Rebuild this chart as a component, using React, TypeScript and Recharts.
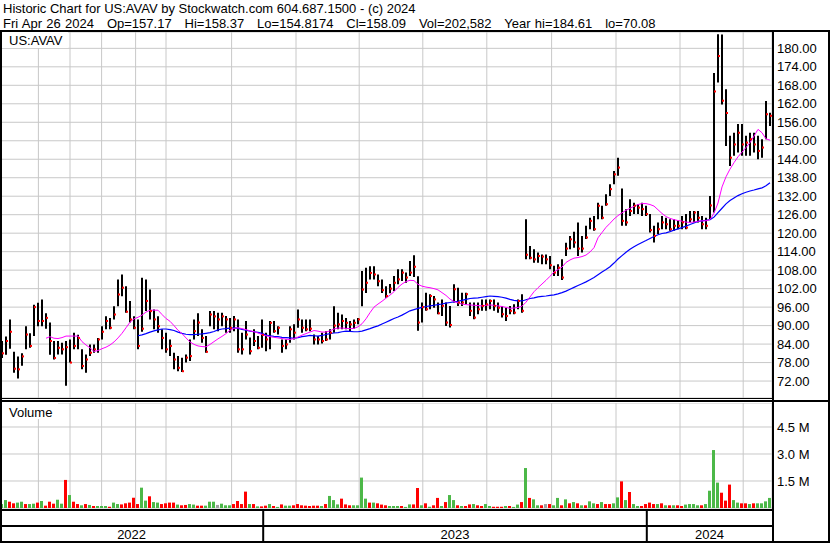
import React from "react";
import { Bar, BarChart, CartesianGrid, Cell, ComposedChart, Line, Scatter, XAxis, YAxis } from "recharts";

// one entry per ~2.6 trading days, late Apr 2022 .. Apr 26 2024
const hi = [
  85, 86.5, 92, 81.5, 80, 81, 89.8, 87.5, 96.8, 97.4,
  98.5, 94, 91, 85, 85, 84.4, 85, 85.5, 87.7, 87,
  82.3, 80.6, 83.9, 83.9, 86, 89.8, 93, 92.5, 96.3, 105,
  106.6, 102.8, 98, 93, 92, 105.5, 105, 101.7, 95.2, 93,
  88.8, 87.7, 85.5, 81.2, 80.1, 79.6, 80.6, 85.5, 92, 94,
  88.8, 86.6, 94.7, 94.7, 94.2, 94.2, 93.1, 92.5, 93.1, 92,
  87.7, 91.5, 86.1, 88.8, 86.6, 92, 87.7, 91.5, 91.5, 89.8,
  85.5, 85.5, 89.8, 90.4, 95.2, 92, 92, 92, 87.1, 86.6,
  87.7, 88.2, 88.8, 96.3, 94.2, 93.6, 92.5, 91.5, 92, 92.5,
  107.7, 108.8, 109.3, 109.3, 106.6, 105, 102.8, 103.5, 106.1, 108.3,
  108.3, 107.2, 111, 112.8, 106, 97.5, 100.7, 100.2, 99.6, 97.5,
  98.5, 97.5, 96.4, 103.4, 102.3, 100.7, 100.7, 97.5, 97.5, 97.5,
  98.5, 98.5, 98.5, 98.5, 97.5, 96.4, 95.8, 96.4, 96.9, 98.5,
  100.2, 124.5, 115.8, 114.8, 113.7, 113.1, 113.1, 112.6, 109.4, 109.9,
  111.5, 116.9, 119.1, 120.5, 123.5, 119.1, 122.4, 125, 125.6, 129.9,
  128.9, 132.6, 135.9, 140.2, 144.5, 134.5, 127.8, 131, 129.9, 129.4,
  129.9, 128.9, 126.2, 122.4, 123.5, 125.6, 125, 124.5, 124.5, 124,
  125.6, 126.2, 127.2, 127.2, 127.2, 125.6, 125, 132.1, 172, 184.6,
  184.5, 166.7, 151.6, 152.6, 155.4, 155.4, 151.6, 152.6, 152.6, 151.6,
  150.5, 162.9, 159.1,
];

const lo = [
  79.5, 80.5, 82.5, 74.7, 72.8, 77, 82.3, 82.8, 86.6, 89.8,
  89.8, 89, 80.5, 79, 80.6, 80.6, 70.5, 78, 82.3, 82.3,
  75.8, 74.7, 80.1, 81.2, 81.2, 85.5, 88.8, 88.8, 92, 96.3,
  99.5, 94.2, 91, 88.8, 82.3, 88, 94.7, 92, 88.8, 87.7,
  82.3, 81.2, 80.1, 75.8, 75.2, 74.9, 78, 78.5, 85.5, 86.6,
  84.4, 81.2, 89.8, 88.8, 88.2, 89.8, 87.7, 87.7, 88.2, 81.2,
  80.6, 85.5, 80.6, 83.4, 82.3, 82.8, 81.7, 82.3, 87.7, 87.1,
  81.2, 82.3, 84.4, 85.5, 89.3, 87.7, 88.2, 88.2, 83.9, 83.9,
  84.2, 85, 85.5, 87.7, 88.8, 88.8, 88.8, 88.2, 89, 90.4,
  96.3, 100.6, 105, 105, 102.8, 100.6, 99, 100.5, 101.2, 103.4,
  104.5, 103.9, 106.1, 105.8, 88.3, 91, 94.8, 95.3, 95.8, 93.7,
  93.1, 89.9, 89.4, 97.5, 96.4, 96.4, 96.9, 93.1, 92.1, 93.7,
  94.8, 94.8, 95.3, 94.8, 94.2, 92.6, 91.5, 93.7, 93.7, 95.3,
  94.2, 111.5, 111.5, 110.4, 110.4, 109.9, 109.9, 108.3, 106.1, 106.1,
  104.8, 112.6, 114.8, 115.3, 112.6, 113.7, 118.1, 121.3, 120.8, 124.5,
  124.5, 128.9, 132.1, 135.9, 138.6, 122.4, 122.4, 125.6, 126.2, 126.2,
  125.6, 125.6, 120.2, 117, 119.7, 121.3, 121.3, 120.8, 120.8, 121.3,
  121.3, 121.3, 123.5, 123.5, 123.5, 121.3, 121.3, 124.5, 126.7, 168.9,
  161.8, 148.3, 141.8, 145.1, 146.2, 145.1, 145.1, 145.1, 146.2, 144,
  144.5, 150.5, 154.8,
];

const cl = [
  81, 85, 88, 76, 75.8, 80, 87.1, 83.4, 96, 91.5,
  91.5, 92.5, 85, 79.5, 82.8, 82.3, 83, 78, 83.4, 86,
  76.9, 79, 81.2, 82.3, 85.5, 88, 91.5, 89.3, 93.6, 100.1,
  102.3, 94.5, 92, 89.3, 83.4, 89, 98, 94.7, 92, 89.8,
  86, 82.3, 83.4, 79, 76.3, 75.2, 79.6, 80.1, 88.2, 91,
  86, 81.5, 93.6, 93, 92, 93, 92, 89.3, 92, 82.3,
  82.3, 87.1, 81.7, 85, 82.8, 87, 85.5, 90.9, 88.2, 89.3,
  83.4, 83.9, 88.8, 87.7, 92, 89.3, 88.8, 89, 85.5, 85.5,
  85, 85.5, 87.7, 90, 90.4, 91.5, 90.9, 90.4, 90.9, 92,
  101.7, 103.9, 107.1, 106.6, 104.4, 101.5, 99.6, 102, 103.9, 105,
  107.2, 105.6, 107.2, 109.1, 91, 96, 95.3, 99.6, 98.5, 94,
  96.4, 91, 90.2, 101.8, 97.5, 97.5, 100.2, 94.8, 92.6, 95.3,
  96.4, 96.9, 98, 96.4, 95.8, 93.7, 93.1, 94.8, 94.2, 98,
  94.8, 113, 112, 111.5, 112.6, 112.4, 111.5, 109.6, 107.2, 108.8,
  105.6, 115, 118, 117, 115, 115, 118.6, 124, 121.3, 128.9,
  125, 129.4, 134.3, 139.1, 141.3, 124, 123.5, 127.2, 128.9, 128.3,
  127.8, 126.2, 121, 119.1, 121.3, 123.5, 122.9, 121.3, 122.4, 122.4,
  123.5, 121.8, 124.5, 126.7, 125, 122.9, 122.4, 129, 166, 177.5,
  163, 159, 144.5, 148.8, 152.6, 148.8, 149.4, 150.5, 148.8, 146.7,
  147.8, 158.6, 158.1,
];

// magenta (short) moving average
const maFast = [
  null, null, null, null, null, null, null, null, null, null, null,
  85.9, 86.4, 85.9, 85.8, 86.1, 86.6, 86.6, 86.6, 86.6, 84.8,
  83.7, 82.8, 81.6, 81.9, 82.5, 83, 83.7, 84.7, 86, 87.5,
  89.3, 91.1, 92.2, 92.7, 93.4, 94.4, 95, 95, 95, 93.6,
  92.3, 91.4, 90, 88.5, 87.4, 86, 84.7, 83.9, 83.4, 83.2,
  83.1, 83.9, 84.8, 85.7, 86.5, 87.4, 88.5, 89.1, 89.3, 89,
  88.7, 88.3, 88, 87.6, 87.1, 86.7, 86.4, 86.2, 86, 85.8,
  85.6, 85.5, 85.8, 86.3, 86.9, 87.4, 87.9, 88.4, 88.2, 87.9,
  87.9, 88.3, 88.9, 89.2, 89.2, 89.1, 89, 89.1, 89.6, 90.6,
  92.2, 94.2, 96, 97, 97.9, 98.9, 99.9, 101, 102.4, 103.5,
  104.3, 104.7, 104.6, 103.4, 102.8, 102.5, 102.3, 102, 101.6, 100.7,
  99.8, 98.6, 97.8, 97.4, 97, 96.8, 96.7, 96.6, 96.5, 96.4,
  96.6, 96.7, 96.6, 96.4, 96.2, 95.9, 95.6, 95.7, 95.9, 96.3,
  97.6, 99.3, 101, 102.3, 103.5, 104.7, 106, 107.4, 108.2, 109,
  110.5, 111.3, 111.9, 112.1, 112.4, 112.9, 113.9, 115.3, 118.5, 120.2,
  121.9, 123.2, 124.6, 125.7, 126.6, 127.4, 128.1, 128.7, 129.3, 129.6,
  129.6, 129.3, 128.8, 127.6, 126.4, 125.4, 124.8, 124.4, 124.1, 123.9,
  123.6, 123.5, 123.6, 123.9, 124, 124, 124.4, 126.5, 129.8, 135,
  138.3, 140.8, 142.9, 144.8, 146.3, 147.8, 149.4, 151.5, 153.7, 152.6,
  150.6, 150.2,
];

// blue (long) moving average
const maSlow = [
  null, null, null, null, null, null, null, null, null, null,
  null, null, null, null, null, null, null, null, null, null,
  null, null, null, null, null, null, null, null, null, null,
  null, null, null, null,
  86.7, 87, 87.4, 87.9, 88.3, 88.6, 88.9,
  88.9, 88.7, 88.4, 87.9, 87.5, 87.2, 87.1, 87.1, 87.2, 87.3,
  87.5, 87.7, 88.1, 88.6, 88.9, 89, 89.2, 89.3, 89.1, 88.8,
  88.5, 88.2, 88, 87.8, 87.5, 86.9, 86.7, 86.5, 86.4, 86.2,
  86.1, 86, 85.9, 86.1, 86.4, 86.6, 86.8, 86.7, 86.6, 86.8,
  87.1, 87.4, 87.6, 87.7, 88, 88.2, 88.1, 88, 88, 88.2,
  88.6, 89, 89.5, 89.9, 90.5, 91.1, 91.7, 92.3, 92.8, 93.4,
  94.1, 94.8, 95.2, 95.6, 95.9, 96.2, 96.4, 96.6, 96.8, 97,
  97.3, 97.5, 97.7, 97.9, 98.2, 98.5, 98.8, 98.9, 99, 99.2,
  99.4, 99.6, 99.5, 99.4, 99.2, 98.9, 98.5, 98.2, 98, 98,
  98.4, 98.8, 99, 99.3, 99.5, 99.6, 99.8, 100, 100.3, 100.7,
  101.2, 101.8, 102.4, 103, 103.6, 104.2, 104.9, 105.6, 106.5, 107.4,
  108.2, 109.1, 110.3, 111.6, 112.7, 113.8, 114.8, 115.6, 116.3, 117,
  117.6, 118.3, 118.9, 119.5, 119.9, 120.1, 120.5, 121, 121.4, 121.8,
  122.3, 122.8, 123.3, 123.8, 124, 124.2, 124.4, 125.2, 126.7, 128.1,
  129.5, 130.6, 131.4, 132.2, 132.8, 133.3, 133.7, 134, 134.4, 134.7,
  135.4, 136.4,
];

// volume in millions of shares
const vol = [
  0.22, 0.44, 0.35, 0.26, 0.3, 0.35, 0.22, 0.22, 0.24, 0.3,
  0.39, 0.13, 0.35, 0.24, 0.46, 0.24, 1.56, 0.72, 0.35, 0.22,
  0.15, 0.22, 0.17, 0.11, 0.11, 0.11, 0.11, 0.07, 0.3, 0.22,
  0.2, 0.26, 0.3, 0.57, 0.22, 1.13, 0.41, 0.65, 0.33, 0.3,
  0.22, 0.26, 0.3, 0.3, 0.19, 0.15, 0.17, 0.22, 0.19, 0.13,
  0.13, 0.13, 0.35, 0.35, 0.17, 0.24, 0.15, 0.15, 0.22, 0.39,
  0.22, 0.91, 0.22, 0.22, 0.09, 0.09, 0.13, 0.22, 0.11, 0.06,
  0.2, 0.13, 0.13, 0.15, 0.22, 0.15, 0.13, 0.11, 0.13, 0.13,
  0.11, 0.22, 0.67, 0.44, 0.2, 0.52, 0.2, 0.15, 0.15, 0.15,
  1.69, 0.52, 0.3, 0.3, 0.26, 0.19, 0.15, 0.11, 0.11, 0.11,
  0.11, 0.06, 0.2, 0.2, 1.11, 0.15, 0.26, 0.07, 0.15, 0.56,
  0.11, 0.33, 0.72, 0.44, 0.15, 0.11, 0.11, 0.2, 0.22, 0.15,
  0.11, 0.22, 0.11, 0.07, 0.07, 0.07, 0.11, 0.11, 0.06, 0.19,
  0.33, 2.22, 0.56, 0.48, 0.15, 0.15, 0.22, 0.22, 0.15, 0.56,
  0.15, 0.48, 0.26, 0.33, 0.26, 0.15, 0.15, 0.37, 0.26, 0.22,
  0.33, 0.22, 0.22, 0.26, 0.59, 1.48, 0.44, 0.89, 0.22, 0.11,
  0.11, 0.22, 0.3, 0.22, 0.22, 0.26, 0.15, 0.15, 0.15, 0.15,
  0.11, 0.19, 0.22, 0.22, 0.15, 0.15, 0.22, 0.96, 3.22, 1.41,
  0.85, 0.41, 1.3, 0.44, 0.3, 0.26, 0.26, 0.22, 0.26, 0.26,
  0.26, 0.37, 0.56,
];

// g = up day, r = down day, u = unchanged
const volDir =
  "ggrrggrggr" + "grrrggrgrr" + "grgrgggrgg" + "rrrrrggrgg" +
  "rrrrgrrggr" + "rgggugggrr" + "rrgrgrrgrg" + "rggrrrrrrr" +
  "grgggrrrgg" + "ggrgrrrggg" + "rggrrgrgrr" + "grggrgrrgr" +
  "rggrrrgrgg" + "rgrggrurgg" + "rgrgrgrggr" + "grrggrgrgg" +
  "rrrrgrgrgr" + "rggggrgggg" + "rrrggrrgrg" + "ggg";

const priceTicks = [72, 78, 84, 90, 96, 102, 108, 114, 120, 126, 132, 138, 144, 150, 156, 162, 168, 174, 180];
const volTicks = [1.5, 3.0, 4.5];
// column at which each month begins (May 2022 .. Apr 2024)
const monthStarts = [
  1.1, 9.1, 17, 24.9, 33.4, 41, 49.3, 57.4, 65.3, 73.5, 81.3, 89.3,
  96.6, 105.2, 112.8, 121.2, 129.7, 137.4, 145.3, 153.5, 161.2, 169.5, 177.4, 185.3,
];
const years = ["2022", "2023", "2024"];
const yearStarts = [-0.5, 65.3, 161.2, 192.5];

const N = cl.length;
const FONT = '"Liberation Sans", Arial, sans-serif';
const AXIS_W = 58;
const GRID = "#c8c8c8";
const DIR_COLOR: Record<string, string> = { g: "#4cb848", r: "#ff0000", u: "#a0a0a0" };

const yearCenters = years.map((_, k) => (yearStarts[k] + yearStarts[k + 1]) / 2);
const yearTicks = [...yearStarts.slice(1, -1), ...yearCenters];

const rows = cl.map((c, i) => ({
  i,
  range: [lo[i], hi[i]],
  cl: c,
  maFast: maFast[i],
  maSlow: maSlow[i],
  vol: vol[i],
  dir: volDir[i],
}));

const CloseTick = (p: any) => <rect x={p.cx} y={p.cy - 1} width={2} height={2} fill="#ff0000" />;

// year labels under the volume pane, plus the black dividers between years
const YearTick = (p: any) => {
  const k = yearCenters.indexOf(p.payload.value);
  if (k < 0) return <rect x={p.x - 1} y={p.y + 2} width={2} height={31} fill="#000" />;
  return (
    <text x={p.x} y={p.y + 31} textAnchor="middle" fontSize={13} fontFamily={FONT} fill="#000">
      {years[k]}
    </text>
  );
};

const line = (style: React.CSSProperties) => (
  <div style={{ position: "absolute", background: "#000", ...style }} />
);

export default function App() {
  const tickStyle = { fill: "#000", fontSize: 13, fontFamily: FONT, textAnchor: "start" as const };
  return (
    <div
      style={{
        position: "fixed",
        left: 0,
        top: 0,
        width: 830,
        height: 543,
        background: "#fff",
        fontFamily: FONT,
        fontSize: 13,
        color: "#000",
        overflow: "hidden",
      }}
    >
      <div style={{ position: "absolute", left: 3, top: 1, whiteSpace: "pre", lineHeight: "15px" }}>
        Historic Chart for US:AVAV by Stockwatch.com 604.687.1500 - (c) 2024
      </div>
      <div style={{ position: "absolute", left: 3, top: 16, whiteSpace: "pre", lineHeight: "15px", wordSpacing: 0.7 }}>
        {"Fri Apr 26 2024   Op=157.17   Hi=158.37   Lo=154.8174   Cl=158.09   Vol=202,582   Year hi=184.61   lo=70.08"}
      </div>

      <div style={{ position: "absolute", left: 0, top: 32 }}>
        <ComposedChart width={830} height={366} data={rows} margin={{ top: 0, right: 0, bottom: 0, left: 0 }}>
          <CartesianGrid stroke={GRID} strokeWidth={1} />
          <XAxis dataKey="i" type="number" domain={[-0.5, N - 0.5]} ticks={monthStarts} height={0} hide allowDataOverflow />
          <YAxis
            orientation="right"
            width={AXIS_W}
            domain={[66.5, 185.3]}
            ticks={priceTicks}
            interval={0}
            allowDataOverflow
            axisLine={false}
            tickLine={false}
            tickSize={0}
            tickMargin={5}
            tick={tickStyle}
            tickFormatter={(v: number) => v.toFixed(2)}
          />
          <Line dataKey="maSlow" stroke="#0000ff" strokeWidth={1.2} dot={false} isAnimationActive={false} />
          <Bar dataKey="range" fill="#000" barSize={2} isAnimationActive={false} />
          <Scatter dataKey="cl" shape={CloseTick} isAnimationActive={false} />
          <Line dataKey="maFast" stroke="#ff00ff" strokeWidth={1} dot={false} isAnimationActive={false} />
        </ComposedChart>
      </div>

      <div style={{ position: "absolute", left: 0, top: 403 }}>
        <BarChart width={830} height={138} data={rows} margin={{ top: 0, right: 0, bottom: 0, left: 0 }}>
          <CartesianGrid stroke={GRID} strokeWidth={1} />
          <XAxis dataKey="i" type="number" domain={[-0.5, N - 0.5]} ticks={monthStarts} height={0} hide allowDataOverflow />
          <XAxis
            xAxisId="yr"
            dataKey="i"
            type="number"
            domain={[-0.5, N - 0.5]}
            ticks={yearTicks}
            interval={0}
            height={33}
            axisLine={false}
            tickLine={false}
            tickSize={0}
            tickMargin={0}
            tick={YearTick}
            allowDataOverflow
          />
          <YAxis
            orientation="right"
            width={AXIS_W}
            domain={[0, 5.833]}
            ticks={volTicks}
            interval={0}
            allowDataOverflow
            axisLine={false}
            tickLine={false}
            tickSize={0}
            tickMargin={5}
            tick={tickStyle}
            tickFormatter={(v: number) => `${v.toFixed(1)} M`}
          />
          <Bar dataKey="vol" barSize={3} isAnimationActive={false}>
            {rows.map((r) => (
              <Cell key={r.i} fill={DIR_COLOR[r.dir]} />
            ))}
          </Bar>
        </BarChart>
      </div>

      <div style={{ position: "absolute", left: 2, top: 32, width: 66, height: 16, background: "#fff" }}>
        <span style={{ position: "absolute", left: 7, top: 1 }}>US:AVAV</span>
      </div>
      <div style={{ position: "absolute", left: 2, top: 403, width: 56, height: 16, background: "#fff" }}>
        <span style={{ position: "absolute", left: 7, top: 2 }}>Volume</span>
      </div>

      {line({ left: 0, top: 30, width: 830, height: 2 })}
      {line({ left: 0, top: 30, width: 2, height: 513 })}
      {line({ left: 772, top: 30, width: 2, height: 513 })}
      {line({ left: 828, top: 30, width: 2, height: 513 })}
      {line({ left: 0, top: 398, width: 774, height: 1 })}
      {line({ left: 0, top: 400, width: 830, height: 2 })}
      {line({ left: 0, top: 509, width: 774, height: 2 })}
      {line({ left: 0, top: 525, width: 774, height: 2 })}
      {line({ left: 0, top: 541, width: 830, height: 2 })}
    </div>
  );
}
